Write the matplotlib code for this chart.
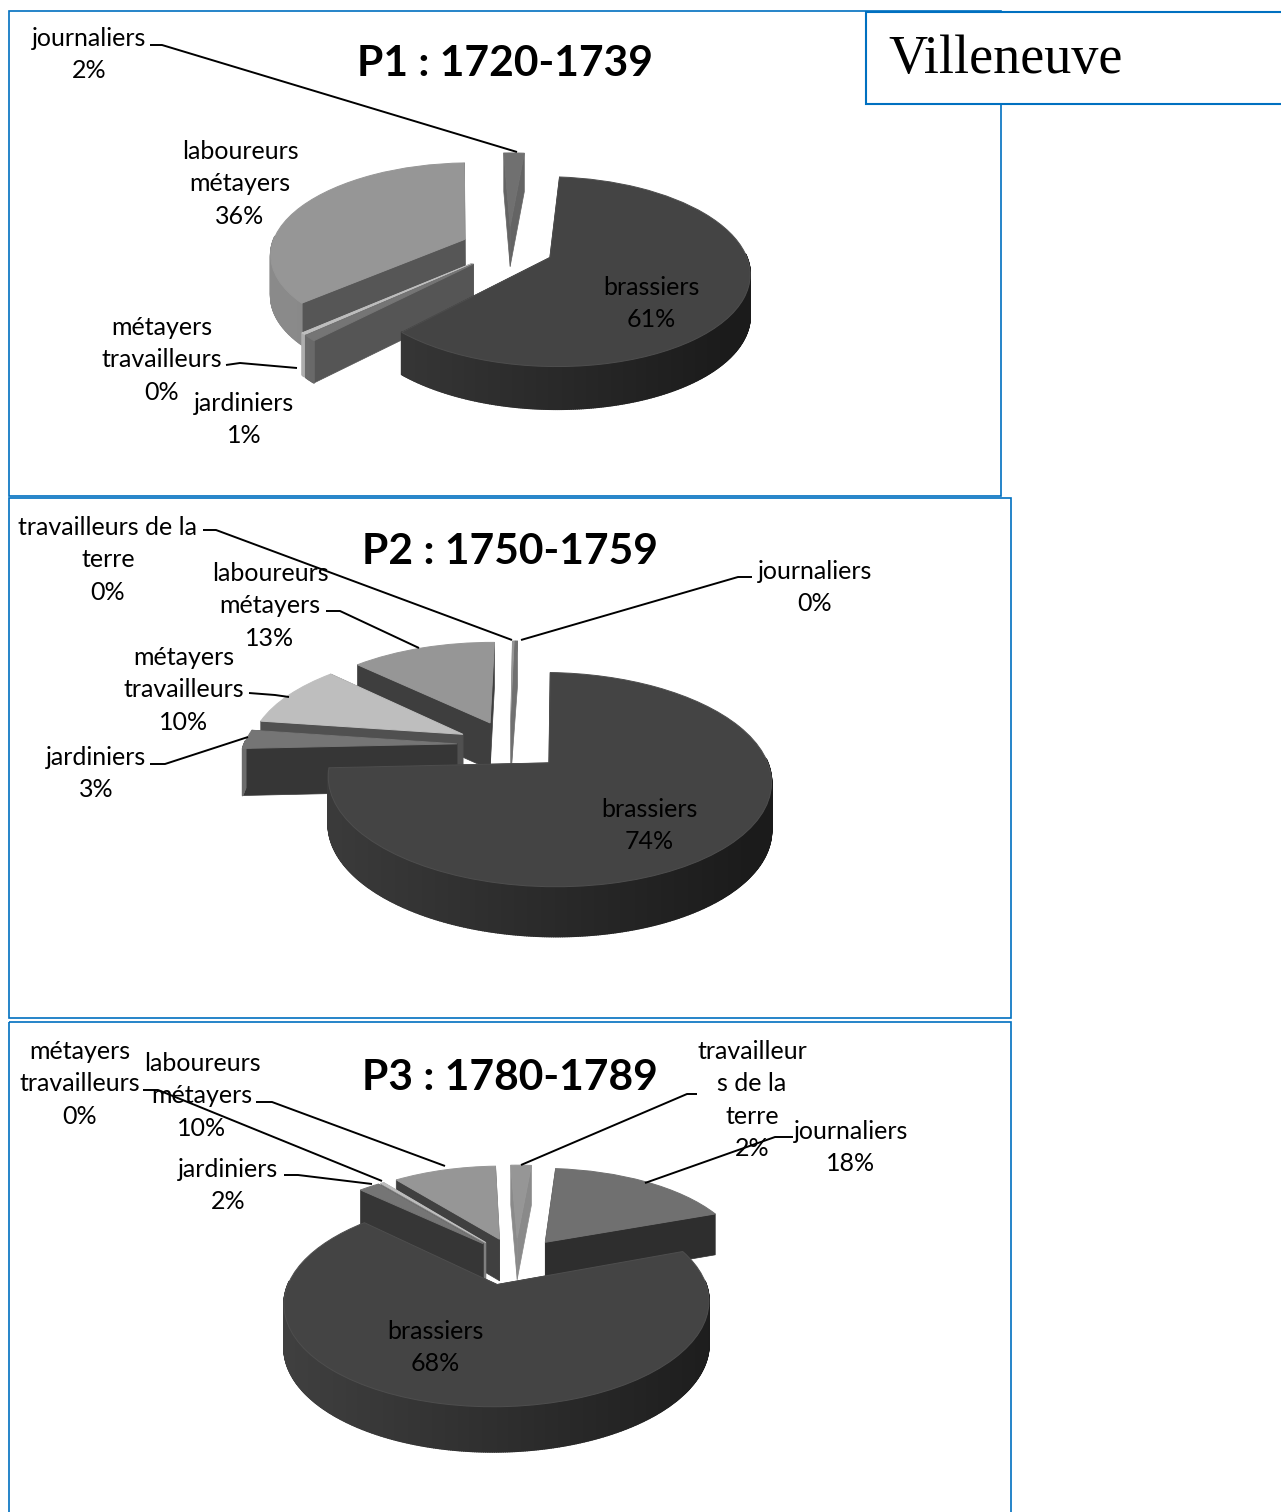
#!/usr/bin/env python

import numpy as np
import matplotlib
matplotlib.use('Agg')
import matplotlib.pyplot as plt
from matplotlib.collections import PolyCollection
from matplotlib.patches import Rectangle
from matplotlib.transforms import Transform

# slices run clockwise, same order as the excel sheet
p1_names = ['brassiers', 'jardiniers', 'métayers travailleurs', 'laboureurs métayers', 'journaliers']
p1_values = [61, 1, 0.3, 36, 2]
p2_names = ['brassiers', 'jardiniers', 'métayers travailleurs', 'laboureurs métayers',
            'travailleurs de la terre', 'journaliers']
p2_values = [74, 3, 10, 13, 0.2, 0.2]
p3_names = ['journaliers', 'brassiers', 'jardiniers', 'métayers travailleurs',
            'laboureurs métayers', 'travailleurs de la terre']
p3_values = [18, 68, 2, 0.3, 10, 2]

titles = ['P1 : 1720-1739', 'P2 : 1750-1759', 'P3 : 1780-1789']

# grey of top face
top_grey = {'brassiers': '#444444', 'jardiniers': '#757575', 'métayers travailleurs': '#bebebe',
            'laboureurs métayers': '#969696', 'travailleurs de la terre': '#969696',
            'journaliers': '#707070'}
# grey of the cut faces, differs a bit per chart
p1_cut = {'brassiers': '#303030', 'jardiniers': '#555555', 'métayers travailleurs': '#a0a0a0',
          'laboureurs métayers': '#565656', 'journaliers': '#646464'}
p2_cut = {'brassiers': '#303030', 'jardiniers': '#363636', 'métayers travailleurs': '#505050',
          'laboureurs métayers': '#3e3e3e', 'travailleurs de la terre': '#808080',
          'journaliers': '#707070'}
p3_cut = {'brassiers': '#303030', 'jardiniers': '#363636', 'métayers travailleurs': '#808080',
          'laboureurs métayers': '#404040', 'travailleurs de la terre': '#8a8a8a',
          'journaliers': '#2e2e2e'}

BLUE = '#0070c0'


class PieProj(Transform):
    # fake excel perspective: unit pie -> pixels
    input_dims = 2
    output_dims = 2
    has_inverse = False

    def __init__(self, cx, cy, rx, ry, k):
        Transform.__init__(self)
        self.cx, self.cy, self.rx, self.ry, self.k = cx, cy, rx, ry, k

    def scale(self, y):
        return 1.0 / (1.0 + self.k * y)

    def transform_non_affine(self, xy):
        xy = np.asarray(xy, dtype=float)
        s = self.scale(xy[:, 1])
        return np.column_stack([self.cx + self.rx * xy[:, 0] * s,
                                self.cy - self.ry * xy[:, 1] * s])


def grey_value(c):
    return matplotlib.colors.to_rgb(c)[0]


def draw_pie(ax, names, values, start, proj, depth, cut, brass_shift=(0, 0)):
    wedges, _ = ax.pie(values, startangle=90 - start, counterclock=False, radius=1.0,
                       explode=[0.25] * len(values), colors=[top_grey[n] for n in names])

    # back slices first, brassiers always last
    def back(i):
        if names[i] == 'brassiers':
            return -9
        return wedges[i].center[1]
    order = sorted(range(len(names)), key=back, reverse=True)

    xmin = proj.cx - proj.rx * 1.1
    xmax = proj.cx + proj.rx * 1.1

    for z, i in enumerate(order):
        w = wedges[i]
        name = names[i]
        if name == 'brassiers':
            w.set_center((w.center[0] + brass_shift[0], w.center[1] + brass_shift[1]))
        t = np.radians(np.linspace(w.theta1, w.theta2, int(w.theta2 - w.theta1) * 2 + 3))
        cx0, cy0 = w.center
        rim = np.column_stack([cx0 + np.cos(t), cy0 + np.sin(t)])
        apex = np.array([cx0, cy0])

        def quad(a, b):
            pts = proj.transform_non_affine(np.vstack([a, b]))
            sc = proj.scale(np.array([a[1], b[1]])) ** 0.3
            low = pts + np.column_stack([[0, 0], depth * sc])
            return np.array([pts[0], pts[1], low[1], low[0]])

        # cut faces
        cuts = [quad(apex, rim[0]), quad(apex, rim[-1])]
        cuts.sort(key=lambda q: q[:, 1].mean())
        ax.add_collection(PolyCollection(cuts, facecolors=cut[name], edgecolors=cut[name],
                                         linewidths=0.5, zorder=10 + z * 3))

        # outer wall, darker to the right, only the part facing us
        quads = [quad(rim[j], rim[j + 1]) for j in range(len(rim) - 1)
                 if np.sin(t[j]) < 0.03 or np.sin(t[j + 1]) < 0.03]
        if quads:
            quads.sort(key=lambda q: q[:, 1].mean())
            base = grey_value(top_grey[name])
            cols = []
            for q in quads:
                f = np.clip((q[:, 0].mean() - xmin) / (xmax - xmin), 0, 1)
                g = base * (0.92 - 0.52 * f)
                cols.append((g, g, g))
            ax.add_collection(PolyCollection(quads, facecolors=cols, edgecolors=cols,
                                             linewidths=1.2, zorder=10.5 + z * 3))

        w.set_transform(proj + ax.transData)
        w.set_zorder(11 + z * 3)
        w.set_edgecolor('#4e4e4e' if name == 'brassiers' else top_grey[name])
        w.set_linewidth(0.7)


def put_label(ax, x, y, lines):
    for n, s in enumerate(lines):
        ax.text(x, y + n * 32.4 + 9, s, ha='center', va='baseline', fontsize=18,
                family='Lato', color='black', zorder=60)


fig = plt.figure(figsize=(12.81, 15.12), dpi=100)
ax = fig.add_axes([0, 0, 1, 1])

draw_pie(ax, p1_names, p1_values, 5, PieProj(509, 248, 194, 90, 0.147), 40.5, p1_cut,
         brass_shift=(-0.02, 0))
draw_pie(ax, p2_names, p2_values, 2, PieProj(510, 745, 213, 99, 0.152), 47, p2_cut)
draw_pie(ax, p3_names, p3_values, 5, PieProj(516, 1260, 200, 92, 0.17), 42, p3_cut,
         brass_shift=(-0.04, -0.01))

ax.set_aspect('auto')
ax.set_xlim(0, 1281)
ax.set_ylim(1512, 0)
ax.axis('off')

# frames
for (x0, y0, x1, y1) in [(9, 11, 1001, 496), (9, 498, 1011, 1018), (9, 1022, 1011, 1530)]:
    ax.add_patch(Rectangle((x0, y0), x1 - x0, y1 - y0, fc='none', ec=BLUE, lw=1.2, zorder=1))
ax.add_patch(Rectangle((866, 12), 430, 92, fc='white', ec=BLUE, lw=1.5, zorder=70))
ax.text(888, 73, 'Villeneuve', family='Liberation Serif', fontsize=39, ha='left', va='baseline',
        color='black', zorder=71)

# titles
for x, y, s in zip([505, 510, 510], [76, 564, 1090], titles):
    ax.text(x, y, s, family='Lato', weight='bold', fontsize=30.6, ha='center', va='baseline',
            color='black', zorder=60)

# leader lines
leaders = [
    [(150, 45), (162, 45), (517, 152)],
    [(226, 365), (240, 363), (297, 368)],
    [(203, 530), (216, 530), (512, 640)],
    [(326, 611), (340, 611), (419, 648)],
    [(249, 693), (275, 695), (289, 697)],
    [(150, 764), (165, 764), (248, 737)],
    [(752, 577), (738, 577), (521, 640)],
    [(143, 1090), (158, 1090), (382, 1181)],
    [(256, 1102), (272, 1102), (445, 1166)],
    [(284, 1175), (298, 1175), (372, 1184)],
    [(697, 1094), (687, 1094), (521, 1165)],
    [(793, 1137), (775, 1137), (645, 1183)],
]
for pts in leaders:
    xs, ys = zip(*pts)
    ax.plot(xs, ys, color='black', lw=1.4, zorder=50, solid_capstyle='butt')

# labels
put_label(ax, 89, 37, ['journaliers', '2%'])
put_label(ax, 240, 150, ['laboureurs', 'métayers', '36%'])
put_label(ax, 651, 286, ['brassiers', '61%'])
put_label(ax, 162, 326, ['métayers', 'travailleurs', '0%'])
put_label(ax, 244, 402, ['jardiniers', '1%'])

put_label(ax, 108, 526, ['travailleurs de la', 'terre', '0%'])
put_label(ax, 270, 572, ['laboureurs', 'métayers', '13%'])
put_label(ax, 184, 656, ['métayers', 'travailleurs', '10%'])
put_label(ax, 96, 756, ['jardiniers', '3%'])
put_label(ax, 815, 570, ['journaliers', '0%'])
put_label(ax, 649, 808, ['brassiers', '74%'])

put_label(ax, 80, 1050, ['métayers', 'travailleurs', '0%'])
put_label(ax, 202, 1062, ['laboureurs', 'métayers', '10%'])
put_label(ax, 228, 1168, ['jardiniers', '2%'])
put_label(ax, 752, 1050, ['travailleur', 's de la', 'terre', '2%'])
put_label(ax, 851, 1130, ['journaliers', '18%'])
put_label(ax, 435, 1330, ['brassiers', '68%'])

fig.savefig('out.png', dpi=100)
